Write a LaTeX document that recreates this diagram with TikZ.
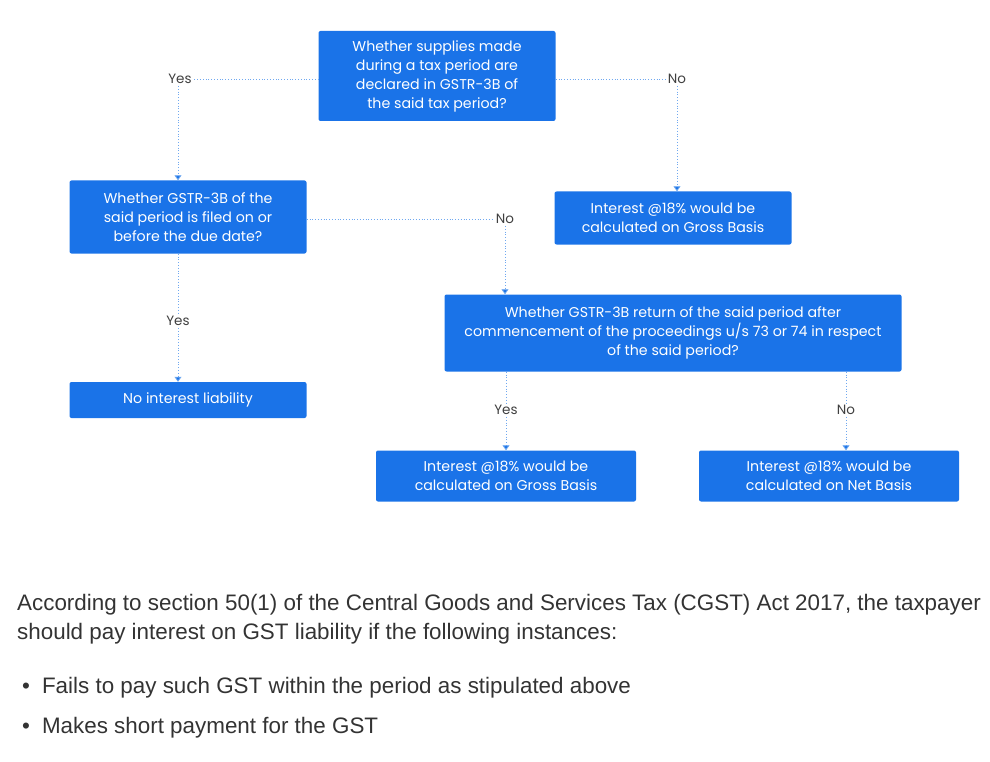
\documentclass[tikz,border=0pt]{standalone}
\usepackage{fontspec}
\setmainfont{Liberation Sans}
\newfontfamily\boxfont{Poppins}
\usetikzlibrary{arrows.meta}
\definecolor{gstblue}{HTML}{1A73E8}
\definecolor{dotblue}{HTML}{6FA8F0}
\tikzset{
  stage/.style={fill=gstblue, text=white, rounded corners=2pt, align=center,
    font=\boxfont\fontsize{14.2}{19}\selectfont, inner sep=0pt},
  answer/.style={fill=white, text=black!75, font=\boxfont\fontsize{13.5}{16}\selectfont, inner sep=2pt},
  link/.style={draw=dotblue, dotted, line width=0.8pt},
  arrow/.style={link, -{Triangle[length=5pt,width=7pt,fill=gstblue]}}
}
\begin{document}
\begin{tikzpicture}[x=1pt, y=-1pt]
\useasboundingbox (0,0) rectangle (990,762);
\node[stage, minimum width=237pt, minimum height=90pt] (supply) at (437,76)
  {Whether supplies made\\during a tax period are\\declared in GSTR-3B of\\the said tax period?};
\node[stage, minimum width=237pt, minimum height=73pt] (filed) at (188,217)
  {Whether GSTR-3B of the\\said period is filed on or\\before the due date?};
\node[stage, minimum width=237pt, minimum height=53pt] (gross1) at (673,218)
  {Interest @18\% would be\\calculated on Gross Basis};
\node[stage, minimum width=457pt, minimum height=77pt] (procs) at (673,333)
  {Whether GSTR-3B return of the said period after\\commencement of the proceedings u/s 73 or 74 in respect\\of the said period?};
\node[stage, minimum width=237pt, minimum height=36pt] (nolia) at (188,400) {No interest liability};
\node[stage, minimum width=260pt, minimum height=51pt] (gross2) at (506,476)
  {Interest @18\% would be\\calculated on Gross Basis};
\node[stage, minimum width=260pt, minimum height=51pt] (net) at (829,476)
  {Interest @18\% would be\\calculated on Net Basis};
% answers
\node[answer] (yesA) at (180,79) {Yes};
\node[answer] (noA) at (677,79) {No};
\node[answer] (noB) at (505,219) {No};
\node[answer] (yesB) at (178,321) {Yes};
\node[answer] (yesC) at (506,410) {Yes};
\node[answer] (noC) at (846,410) {No};
% connectors
\draw[link] (supply.west |- yesA) -- (yesA.east);
\draw[arrow] (yesB.north |- yesA.south) -- (yesB.north |- filed.north);
\draw[link] (supply.east |- noA) -- (noA.west);
\draw[arrow] (noA.south) -- (noA.south |- gross1.north);
\draw[link] (filed.east |- noB) -- (noB.west);
\draw[arrow] (noB.south) -- (noB.south |- procs.north);
\draw[link] (yesB.north |- filed.south) -- (yesB.north);
\draw[arrow] (yesB.south) -- (yesB.south |- nolia.north);
\draw[link] (procs.south -| yesC) -- (yesC.north);
\draw[arrow] (yesC.south) -- (gross2.north);
\draw[link] (procs.south -| noC) -- (noC.north);
\draw[arrow] (noC.south) -- (noC.south |- net.north);
% text below
\node[anchor=north west, align=left, text=black!80, font=\fontsize{22.4}{29}\selectfont, inner sep=0pt] (para) at (17,594)
  {According to section 50(1) of the Central Goods and Services Tax (CGST) Act 2017, the taxpayer\\should pay interest on GST liability if the following instances:};
\node[anchor=west, text=black!80, font=\fontsize{22.4}{26}\selectfont, inner sep=0pt] (bulA) at (22,688)
  {\textbullet\hspace{12pt}Fails to pay such GST within the period as stipulated above};
\node[anchor=west, text=black!80, font=\fontsize{22.4}{26}\selectfont, inner sep=0pt] (bulB) at (22,728)
  {\textbullet\hspace{12pt}Makes short payment for the GST};
\end{tikzpicture}
\end{document}
